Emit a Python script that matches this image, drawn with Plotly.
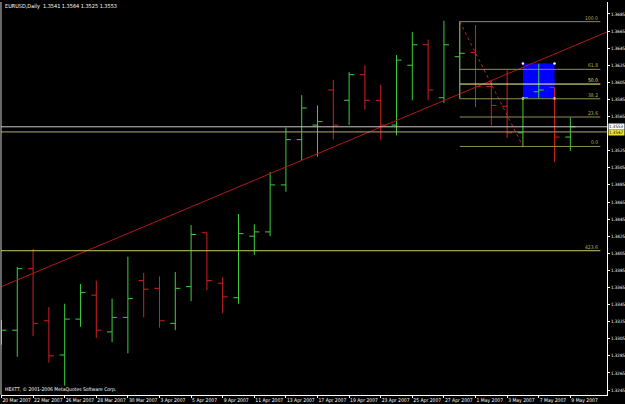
import plotly.graph_objects as go

# ---------------- data ----------------
dates = ["20 Mar", "21 Mar", "22 Mar", "23 Mar", "26 Mar", "27 Mar", "28 Mar", "29 Mar", "30 Mar",
         "2 Apr", "3 Apr", "4 Apr", "5 Apr", "6 Apr", "9 Apr", "10 Apr", "11 Apr", "12 Apr", "13 Apr",
         "16 Apr", "17 Apr", "18 Apr", "19 Apr", "20 Apr", "23 Apr", "24 Apr", "25 Apr", "26 Apr", "27 Apr",
         "30 Apr", "1 May", "2 May", "3 May", "4 May", "7 May", "8 May", "9 May"]
opens = [1.3309, 1.3315, 1.3387, 1.3326, 1.3286, 1.3328, 1.3356, 1.3313, 1.3330,
         1.3373, 1.3364, 1.3323, 1.3366, 1.3429, 1.3370, 1.3353, 1.3425, 1.3430, 1.3485,
         1.3538, 1.3555, 1.3596, 1.3584, 1.3614, 1.3584, 1.3555, 1.3625, 1.3649, 1.3587,
         1.3635, 1.3640, 1.3600, 1.3577, 1.3546, 1.3594, 1.3599, 1.3541]
highs = [1.3327, 1.3389, 1.3410, 1.3342, 1.3346, 1.3369, 1.3373, 1.3352, 1.3401,
         1.3382, 1.3378, 1.3383, 1.3438, 1.3429, 1.3377, 1.3451, 1.3439, 1.3500, 1.3552,
         1.3590, 1.3578, 1.3608, 1.3617, 1.3625, 1.3602, 1.3637, 1.3664, 1.3655, 1.3677,
         1.3676, 1.3672, 1.3608, 1.3619, 1.3587, 1.3627, 1.3599, 1.3564]
lows = [1.3298, 1.3284, 1.3308, 1.3277, 1.3250, 1.3319, 1.3306, 1.3301, 1.3288,
        1.3330, 1.3318, 1.3315, 1.3349, 1.3362, 1.3335, 1.3346, 1.3403, 1.3425, 1.3477,
        1.3514, 1.3518, 1.3538, 1.3555, 1.3573, 1.3538, 1.3543, 1.3584, 1.3584, 1.3581,
        1.3586, 1.3576, 1.3555, 1.3540, 1.3529, 1.3586, 1.3512, 1.3525]
closes = [1.3315, 1.3387, 1.3323, 1.3285, 1.3328, 1.3359, 1.3315, 1.3330, 1.3352,
          1.3363, 1.3326, 1.3364, 1.3427, 1.3373, 1.3354, 1.3428, 1.3430, 1.3485, 1.3538,
          1.3575, 1.3559, 1.3555, 1.3614, 1.3584, 1.3555, 1.3631, 1.3649, 1.3596, 1.3649,
          1.3639, 1.3600, 1.3578, 1.3546, 1.3587, 1.3596, 1.3541, 1.3553]

x_labels = ["20 Mar 2007", "22 Mar 2007", "26 Mar 2007", "28 Mar 2007", "30 Mar 2007", "3 Apr 2007",
            "5 Apr 2007", "9 Apr 2007", "11 Apr 2007", "13 Apr 2007", "17 Apr 2007", "19 Apr 2007",
            "23 Apr 2007", "25 Apr 2007", "27 Apr 2007", "1 May 2007", "3 May 2007", "7 May 2007",
            "9 May 2007"]
y_ticks = [1.3685, 1.3665, 1.3645, 1.3625, 1.3605, 1.3585, 1.3565, 1.3525, 1.3505, 1.3485,
           1.3465, 1.3445, 1.3425, 1.3405, 1.3385, 1.3365, 1.3345, 1.3325, 1.3305, 1.3285,
           1.3265, 1.3245]

trend_x = [0, 40]
trend_y = [1.3366, 1.3677]
fib_x = [29, 33]
fib_y = [1.3676, 1.3530]          # 100 level, 0 level
fib_levels = [0.0, 23.6, 38.2, 50.0, 61.8, 100.0]
fib_end_x = 37.9
ext_level_label = "423.6"
ext_level_price = 1.3408
rect_x = [33, 35]
rect_y = [1.3586, 1.3627]
bid_price = 1.3553
line2_price = 1.3547
title_text = "EURUSD,Daily  1.3541 1.3564 1.3525 1.3553"
copyright_text = "HEXTT, \u00a9 2001-2006 MetaQuotes Software Corp."

x_range = [-0.03, 38.32]
y_range = [1.32392, 1.36990]

FONT = "Liberation Sans Narrow, DejaVu Sans Condensed, Liberation Sans, sans-serif"
GREEN = "#3ccf3c"
RED = "#d02020"
FIBC = "#8f8f55"

xi = list(range(len(dates)))
fig = go.Figure()

fig.add_trace(go.Ohlc(
    x=xi, open=opens, high=highs, low=lows, close=closes,
    increasing=dict(line=dict(color=GREEN, width=1)),
    decreasing=dict(line=dict(color=RED, width=1)),
    tickwidth=0.32, hoverinfo="skip", showlegend=False))

# trend line
fig.add_trace(go.Scatter(x=trend_x, y=trend_y, mode="lines",
                         line=dict(color="#b01818", width=1), hoverinfo="skip", showlegend=False))
# fib diagonal
fig.add_trace(go.Scatter(x=fib_x, y=fib_y, mode="lines",
                         line=dict(color="#c02020", width=1, dash="dot"), hoverinfo="skip", showlegend=False))

shapes = []
annotations = []

# blue rectangle
shapes.append(dict(type="rect", xref="x", yref="y", x0=rect_x[0], x1=rect_x[1], y0=rect_y[0], y1=rect_y[1],
                   fillcolor="#0000ff", line=dict(width=0), layer="below"))
fig.add_trace(go.Scatter(x=[rect_x[0], rect_x[1], rect_x[0], rect_x[1]],
                         y=[rect_y[0], rect_y[0], rect_y[1], rect_y[1]], mode="markers",
                         marker=dict(color="white", size=2.5), hoverinfo="skip", showlegend=False))

# fib levels
hi, lo = fib_y
for lv in fib_levels:
    p = lo + lv / 100.0 * (hi - lo)
    col = "#ffff90" if lv == 50.0 else FIBC
    shapes.append(dict(type="line", xref="x", yref="y", x0=fib_x[0], x1=fib_end_x, y0=p, y1=p,
                       line=dict(color=col, width=1), layer="above"))
    annotations.append(dict(x=fib_end_x, y=p, xref="x", yref="y", text=f"{lv:.1f}", showarrow=False,
                            xanchor="right", yanchor="bottom", yshift=-1,
                            font=dict(family=FONT, size=5, color="#e0e070" if lv == 50.0 else "#b0b060")))
# vertical left edge of fib
shapes.append(dict(type="line", xref="x", yref="y", x0=fib_x[0], x1=fib_x[0],
                   y0=lo + 0.382 * (hi - lo), y1=hi, line=dict(color=FIBC, width=1)))

# extension line
shapes.append(dict(type="line", xref="x", yref="y", x0=x_range[0], x1=fib_end_x,
                   y0=ext_level_price, y1=ext_level_price, line=dict(color="#c8c870", width=1)))
annotations.append(dict(x=fib_end_x, y=ext_level_price, xref="x", yref="y", text=ext_level_label,
                        showarrow=False, xanchor="right", yanchor="bottom", yshift=-1,
                        font=dict(family=FONT, size=5, color="#b0b060")))

# bid / price lines
shapes.append(dict(type="line", xref="paper", yref="y", x0=0, x1=1, y0=bid_price, y1=bid_price,
                   line=dict(color="#c8c8c8", width=1)))
shapes.append(dict(type="line", xref="paper", yref="y", x0=0, x1=1, y0=line2_price, y1=line2_price,
                   line=dict(color="#b0a878", width=1)))
annotations.append(dict(x=1, y=bid_price, xref="paper", yref="y", text=f"{bid_price:.4f}", showarrow=False,
                        xanchor="left", xshift=1, bgcolor="#ffffff", borderpad=0,
                        font=dict(family=FONT, size=4.5, color="black")))
annotations.append(dict(x=1, y=line2_price, xref="paper", yref="y", text=f"{line2_price:.4f}", showarrow=False,
                        xanchor="left", xshift=1, yshift=-1, bgcolor="#f0e040", borderpad=0,
                        font=dict(family=FONT, size=4.5, color="black")))

# left border
shapes.append(dict(type="line", xref="paper", yref="paper", x0=0, x1=0, y0=0, y1=1,
                   line=dict(color="#d0d0d0", width=1)))

# title & copyright
annotations.append(dict(x=0, y=1, xref="paper", yref="paper", text=title_text, showarrow=False,
                        xanchor="left", yanchor="top", xshift=2, yshift=1,
                        font=dict(family=FONT, size=5.5, color="white")))
annotations.append(dict(x=0, y=0, xref="paper", yref="paper", text=copyright_text, showarrow=False,
                        xanchor="left", yanchor="bottom", xshift=2, yshift=0,
                        font=dict(family=FONT, size=5, color="white")))

fig.update_layout(
    width=625, height=404,
    margin=dict(l=1, r=18, t=2, b=9, autoexpand=False),
    paper_bgcolor="black", plot_bgcolor="black",
    shapes=shapes, annotations=annotations,
    xaxis=dict(range=x_range, rangeslider=dict(visible=False), showgrid=False, zeroline=False,
               tickmode="array", tickvals=xi[::2], ticktext=x_labels,
               ticklabelposition="outside right", tickangle=0, automargin=False,
               ticks="outside", ticklen=2, tickcolor="white", showline=True, linecolor="white",
               linewidth=1, tickfont=dict(family=FONT, size=5, color="white")),
    yaxis=dict(range=y_range, side="right", showgrid=False, zeroline=False, automargin=False,
               tickmode="array", tickvals=y_ticks, ticktext=[f"{v:.4f}" for v in y_ticks],
               ticks="outside", ticklen=2, ticklabelstandoff=0, tickcolor="white", showline=True,
               linecolor="white", linewidth=1, tickfont=dict(family=FONT, size=4.5, color="white")),
)

fig.write_html("out.html")
